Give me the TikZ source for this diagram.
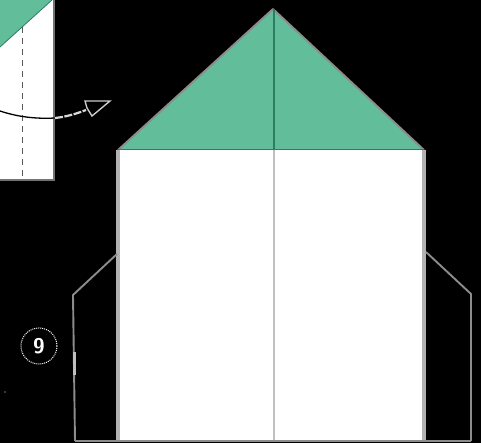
\documentclass[tikz,border=0pt]{standalone}
\usepackage{tikz}
\usetikzlibrary{arrows.meta,positioning}
\definecolor{flapgreen}{HTML}{62BD9B}
\definecolor{creasegreen}{HTML}{2E7D63}
\definecolor{edgegray}{HTML}{8C8C8C}
\begin{document}
\begin{tikzpicture}[x=1pt,y=-1pt,
  every node/.style={font=\small,inner sep=1.5pt},
  paperedge/.style={draw=edgegray,line width=1.9pt,line join=round},
  sheetside/.style={draw=black!30,line width=3.4pt},
  stepmark/.style={circle,draw=white,densely dotted,line width=1pt,text=white,minimum size=36pt,inner sep=0pt,font=\sffamily\bfseries\Huge}]
\useasboundingbox (0,0) rectangle (481,443);
\fill[black] (0,0) rectangle (481,443);
% previous step, cut off at the corner
\fill[white] (0,0) rectangle (54,180);
\fill[flapgreen] (0,0) -- (52,0) -- (0,47) -- cycle;
\draw[creasegreen,line width=.8pt] (52,0) -- (0,47);
\draw[black!55,line width=2pt] (54,0) -- (54,180) -- (0,180);
\draw[black!65,line width=1pt,dash pattern=on 6pt off 5pt] (22,27) -- (22,177);
\coordinate (swingin) at (0,111);
\coordinate (swingmid) at (55,118);
\coordinate (swingout) at (86,110);
\draw[black,line width=1.3pt] (swingin) .. controls (18,117) and (36,119) .. (swingmid);
\draw[white!85!black,line width=2.2pt,dash pattern=on 8pt off 1.5pt] (swingmid) .. controls (65,117) and (76,114) .. (swingout);
\draw[white!80!black,line width=1.4pt,line join=miter,fill=black] (85,101) -- (110,101) -- (92,116) -- (87,108) -- cycle;
% the sheet
\fill[white] (118,150) rectangle (424,441);
\fill[flapgreen] (118,150) -- (273,9) -- (424,150) -- cycle;
\draw[paperedge] (118,150) -- (273,9) -- (424,150);
\draw[creasegreen,line width=1pt] (118,150) -- (424,150);
\draw[creasegreen,line width=1.2pt] (274,9) -- (274,150);
\draw[black!25,line width=1.6pt] (274,150) -- (274,441);
\draw[sheetside] (118,150) -- (118,441);
\draw[sheetside] (424,150) -- (424,441);
\draw[edgegray,line width=2pt] (75,441) -- (471,441);
% hidden paper showing at both sides
\draw[paperedge] (117,254) -- (73,295) -- (75,441);
\draw[paperedge] (426,252) -- (471,294) -- (471,441);
\draw[black!25,line width=3pt] (74,352) -- (74,375);
\node[stepmark] (stepnine) at (39,346) {\scalebox{.85}{9}};
\node[circle,fill=black!55,inner sep=.7pt] (speck) at (5,392) {};
\end{tikzpicture}
\end{document}
